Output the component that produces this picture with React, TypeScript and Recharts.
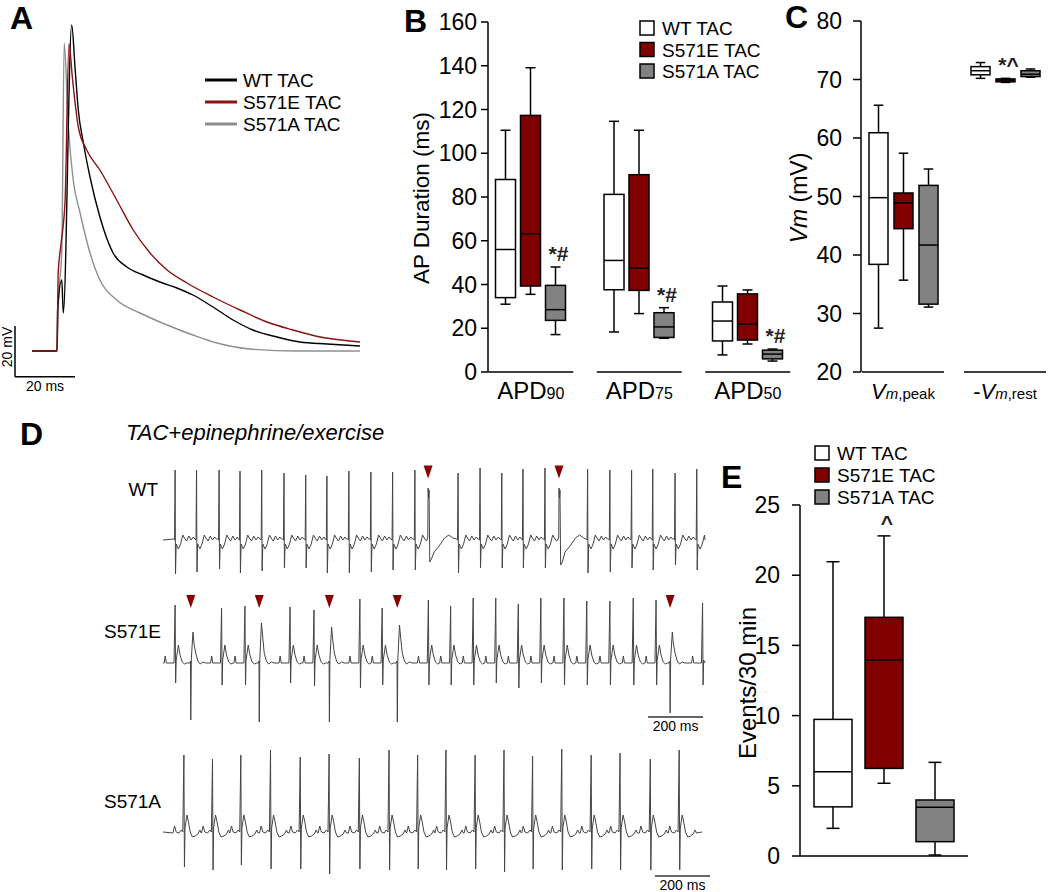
import React from "react";
import {
  LineChart,
  Line,
  BarChart,
  Bar,
  XAxis,
  YAxis,
  ReferenceLine,
  ReferenceDot,
} from "recharts";

const FONT = "'Liberation Sans', Arial, Helvetica, sans-serif";
const RED = "#800000";
const GRAY = "#828282";
const TRACE_RED = "#8a1212";
const TRACE_GRAY = "#8e8e8e";
const ECG = "#444";

// ---------- A: action potentials (ms from upstroke, mV)
const apWtTime = [-8.3, 0, 0.2, 1.6, 2.1, 4.9, 6, 7.1, 8.8, 11, 14.3, 18.7, 23.3, 28.7, 34.3, 40, 45.3, 52, 58.7, 65.3, 73.3, 81, 90, 101];
const apWtVm = [-80, -80, -63.6, -51.6, -64.8, 50.4, 33.6, 16.4, 3.2, -10.4, -26.4, -40.8, -46.4, -49.6, -52.4, -54.8, -57.6, -62.4, -67.6, -71.6, -74.4, -76.4, -77.2, -78];
const apS571ETime = [-8.3, 0, 0.4, 1.3, 2.7, 4, 5.2, 7.1, 9.9, 14.3, 19.9, 25.4, 31, 36.7, 43.3, 52, 61, 70, 78.7, 87.7, 101];
const apS571EVm = [-80, -80, -48.8, -37.6, -19.6, 42.8, 28.4, 9.6, 0.4, -7.6, -19.6, -31.6, -40.8, -47.6, -52.8, -58.4, -63.6, -68.4, -71.6, -74.4, -76.4];
const apS571ATime = [-8.3, 0, 0.5, 1.6, 2.4, 3.8, 5.4, 7.7, 11, 14.3, 19.9, 27.7, 36.7, 45.3, 53.3, 64.3, 80, 101];
const apS571AVm = [-80, -80, -59.6, -39.6, 43.2, 9.6, -11.6, -24.8, -40.8, -51.6, -59.6, -64.8, -69.6, -73.6, -76.8, -79.2, -80, -80];

// ---------- B: APD box plots [min, q1, median, q3, max]
const apdCategories = ["APD90", "APD75", "APD50"];
const apdWt = [[31, 34, 56, 88, 110.5], [18.3, 37.6, 51, 81.2, 114.6], [7.8, 14.2, 23.3, 32, 39.3]];
const apdS571E = [[35.5, 39.3, 63.2, 117.3, 139.1], [26.7, 37.3, 47.5, 90.2, 110.5], [12.8, 14.6, 21.9, 35.7, 37.5]];
const apdS571A = [[17.1, 23.6, 28.5, 39.6, 48], [15.4, 15.8, 20.6, 27.1, 29.4], [5, 6, 8.2, 10, 10.5]];
const apdS571AMarks = ["*#", "*#", "*#"];
const apdTicks = [0, 20, 40, 60, 80, 100, 120, 140, 160];

// ---------- C: membrane potential box plots
const vmCategories = ["peak", "rest"];
const vmWt = [[27.5, 38.4, 49.8, 60.9, 65.6], [70.2, 70.8, 71.5, 72.2, 72.9]];
const vmS571E = [[35.7, 44.5, 48.9, 50.6, 57.4], [69.5, 69.6, 69.9, 70.1, 70.2]];
const vmS571A = [[31.1, 31.6, 41.7, 51.9, 54.7], [70.4, 70.5, 70.9, 71.5, 71.8]];
const vmS571EMarks = ["", "*^"];
const vmTicks = [20, 30, 40, 50, 60, 70, 80];

// ---------- E: events per 30 min
const eventWt = [1.97, 3.5, 6, 9.73, 20.96];
const eventS571E = [5.18, 6.24, 13.96, 17, 22.8];
const eventS571A = [0.07, 1.02, 3.47, 3.99, 6.67];
const eventS571EMark = "^";
const eventTicks = [0, 5, 10, 15, 20, 25];

// ---------- D: ECG beats (ms), R / S amplitudes (a.u.)
const wtBeatTimes = [44, 122, 204, 280, 359, 440, 519, 596, 676, 756, 835, 916, 1073, 1153, 1232, 1309, 1389, 1544, 1625, 1704, 1781, 1862, 1941];
const wtR = [70, 70, 70, 69, 70, 67, 65, 64, 69, 68, 68, 70, 67, 72, 67, 71, 72, 71, 70, 70, 71, 67, 71];
const wtS = [-34, -32, -29, -33, -31, -28, -28, -33, -33, -32, -30, -30, -33, -28, -28, -28, -28, -33, -32, -28, -30, -25, -30];
const wtEctTimes = [964, 1440];
const wtEctR = [52, 52];
const wtEctS = [-22, -25];

const eBeatTimes = [44, 213, 298, 462, 549, 716, 797, 965, 1046, 1128, 1210, 1292, 1374, 1458, 1541, 1625, 1710, 1793, 1962];
const eR = [58, 55, 57, 56, 53, 64, 55, 63, 57, 65, 65, 59, 65, 65, 62, 62, 65, 63, 60];
const eS = [-20, -22, -22, -20, -23, -25, -22, -22, -22, -22, -20, -25, -20, -22, -22, -22, -22, -22, -22];
const eEctTimes = [101, 350, 605, 852, 1844];
const eEctH = [31, 40, 36, 38, 31];
const eEctD = [-57, -59, -59, -59, -50];

const aBeatTimes = [76, 180, 283, 391, 499, 604, 714, 822, 926, 1029, 1135, 1240, 1344, 1450, 1557, 1662, 1772, 1877];
const aR = [77, 73, 77, 82, 75, 78, 74, 82, 77, 82, 77, 82, 76, 83, 77, 79, 73, 82];
const aS = [-35, -38, -33, -37, -37, -42, -37, -38, -37, -38, -37, -40, -37, -38, -37, -38, -38, -38];

// beat shapes: [ms offset, amplitude]
const wtNormal = (r: number, s: number) => [[-6, 1], [-2, 0], [0, r], [1.5, s], [4, -4], [12, -9], [20, -4], [28, 5], [34, 2], [42, -1], [50, 4], [58, 0], [66, 3], [72, 1]];
const wtEctopic = (r: number, s: number) => [[-4, 0], [-1, 3], [0, r], [2, r - 10], [3.5, r - 2], [6, s], [12, s + 3], [22, -12], [40, -6], [60, 2], [75, 5], [90, 2]];
const eNormal = (r: number, s: number) => [[-40, 0], [-36, 7], [-32, 0], [-4, 0], [0, r], [2, s], [4, 3], [12, 18], [18, 8], [26, 1], [34, -1], [42, 0]];
const eEctopic = (h: number, d: number) => [[-4, 0], [-1, 2], [0, d], [2, 4], [8, h], [12, h - 12], [18, 10], [26, 2], [34, -1], [44, 1], [54, 0]];
const aNormal = (r: number, s: number) => [[-40, -1], [-34, 6], [-28, 0], [-18, -1], [-10, 2], [-4, 0], [0, r], [2, s], [4, 4], [11, 17], [16, 11], [23, 0], [31, -5], [41, -4], [51, -2], [58, 2], [63, -1]];

const makeTrace = (beats: { t: number; wave: number[][] }[], end: number) => {
  const sorted = [...beats].sort((a, b) => a.t - b.t);
  const pts = [{ t: 0, v: 0 }];
  sorted.forEach((b, i) => {
    const next = i < sorted.length - 1 ? sorted[i + 1].t + sorted[i + 1].wave[0][0] : end;
    b.wave.forEach(([dt, v]) => {
      const t = b.t + dt;
      if (t > pts[pts.length - 1].t && t < next && t < end) pts.push({ t, v });
    });
  });
  pts.push({ t: end, v: 0 });
  return pts;
};

const wtTrace = makeTrace(
  [
    ...wtBeatTimes.map((t, i) => ({ t, wave: wtNormal(wtR[i], wtS[i]) })),
    ...wtEctTimes.map((t, i) => ({ t, wave: wtEctopic(wtEctR[i], wtEctS[i]) })),
  ],
  1971
);
const eTrace = makeTrace(
  [
    ...eBeatTimes.map((t, i) => ({ t, wave: eNormal(eR[i], eS[i]) })),
    ...eEctTimes.map((t, i) => ({ t, wave: eEctopic(eEctH[i], eEctD[i]) })),
  ],
  1971
);
const aTrace = makeTrace(aBeatTimes.map((t, i) => ({ t, wave: aNormal(aR[i], aS[i]) })), 1960);

const toPts = (ts: number[], vs: number[]) => ts.map((t, i) => ({ t, v: vs[i] }));

// ---------- shared pieces
const boxShape = (fill: string, statsKey: string, markKey: string, capRatio: number) => (props: any) => {
  const { x, y, width, height, payload } = props;
  const [lo, q1, med, q3, hi] = payload[statsKey];
  const py = (v: number) => y + ((hi - v) / (hi - lo)) * height;
  const cx = x + width / 2;
  const cap = (width * capRatio) / 2;
  const mark = payload[markKey];
  return (
    <g>
      <line x1={cx} x2={cx} y1={py(hi)} y2={py(lo)} stroke="#000" strokeWidth={1.5} />
      <line x1={cx - cap} x2={cx + cap} y1={py(hi)} y2={py(hi)} stroke="#000" strokeWidth={1.5} />
      <line x1={cx - cap} x2={cx + cap} y1={py(lo)} y2={py(lo)} stroke="#000" strokeWidth={1.5} />
      <rect x={x} y={py(q3)} width={width} height={Math.max(py(q1) - py(q3), 1)} fill={fill} stroke="#000" strokeWidth={1.5} />
      <line x1={x} x2={x + width} y1={py(med)} y2={py(med)} stroke="#000" strokeWidth={1.5} />
      {mark ? (
        <text x={cx + 3} y={py(hi) - 6} textAnchor="middle" fontFamily={FONT} fontSize={21} fontWeight="bold" fill="#222">
          {mark}
        </text>
      ) : null}
    </g>
  );
};

const axisStyle = { stroke: "#000", strokeWidth: 1.5 };
const tickStyle = { fill: "#000", fontSize: 23, fontFamily: FONT };

const ApdTick = (props: any) => {
  const { x, y, payload } = props;
  const label = String(payload.value);
  return (
    <g>
      <line x1={x - 42.5} x2={x + 42.5} y1={y} y2={y} stroke="#000" strokeWidth={1.5} />
      <text x={x} y={y + 27} textAnchor="middle" fontFamily={FONT} fontSize={24} fill="#000">
        {label.slice(0, 3)}
        <tspan fontSize={16}>{label.slice(3)}</tspan>
      </text>
    </g>
  );
};

const VmTick = (props: any) => {
  const { x, y, payload } = props;
  const rest = payload.value === "rest";
  return (
    <g>
      <line x1={x - 41} x2={x + 41} y1={y} y2={y} stroke="#000" strokeWidth={1.5} />
      <text x={x} y={y + 27} textAnchor="middle" fontFamily={FONT} fontSize={22} fill="#000">
        {rest ? "-" : ""}
        <tspan fontStyle="italic">V</tspan>
        <tspan fontStyle="italic" fontSize={15}>m</tspan>
        <tspan fontSize={15}>{"," + payload.value}</tspan>
      </text>
    </g>
  );
};

const Triangle = (props: any) => {
  const { cx, cy } = props;
  return <polygon points={`${cx - 4.5},${cy - 6.5} ${cx + 4.5},${cy - 6.5} ${cx},${cy + 6.5}`} fill="#8b0000" />;
};

const EcgRow = ({ top, height, domain, data, arrows, arrowV, bar }: any) => (
  <div style={{ position: "absolute", left: 163, top, width: 550, height }}>
    <LineChart width={550} height={height} margin={{ top: 0, right: 0, bottom: 0, left: 0 }}>
      <XAxis type="number" dataKey="t" domain={[0, 2000]} hide allowDataOverflow />
      <YAxis type="number" domain={domain} hide allowDataOverflow />
      <Line data={data} dataKey="v" type="linear" dot={false} stroke={ECG} strokeWidth={1} isAnimationActive={false} />
      {arrows.map((t: number) => (
        <ReferenceDot key={t} x={t} y={arrowV} r={0} shape={Triangle} ifOverflow="visible" />
      ))}
      {bar ? (
        <ReferenceLine
          segment={[{ x: bar[0], y: bar[2] }, { x: bar[1], y: bar[2] }]}
          stroke="#333"
          strokeWidth={1.5}
          ifOverflow="visible"
          label={{ value: "200 ms", position: "bottom", offset: 4, fontSize: 14, fontFamily: FONT, fill: "#000" }}
        />
      ) : null}
    </LineChart>
  </div>
);

const PanelA = () => (
  <div style={{ position: "absolute", left: 0, top: 21, width: 360, height: 360 }}>
    <LineChart width={360} height={360} margin={{ top: 0, right: 0, bottom: 0, left: 0 }}>
      <XAxis type="number" dataKey="t" domain={[-19, 101]} hide allowDataOverflow />
      <YAxis type="number" domain={[-92, 52]} hide allowDataOverflow />
      <Line data={toPts(apS571ATime, apS571AVm)} dataKey="v" type="monotone" dot={false} stroke={TRACE_GRAY} strokeWidth={1.4} isAnimationActive={false} />
      <Line data={toPts(apWtTime, apWtVm)} dataKey="v" type="monotone" dot={false} stroke="#000" strokeWidth={1.4} isAnimationActive={false} />
      <Line data={toPts(apS571ETime, apS571EVm)} dataKey="v" type="monotone" dot={false} stroke={TRACE_RED} strokeWidth={1.4} isAnimationActive={false} />
      <ReferenceLine segment={[{ x: -14, y: -90.3 }, { x: -14, y: -70 }]} stroke="#000" strokeWidth={1.5} ifOverflow="visible" />
      <ReferenceLine segment={[{ x: -14, y: -90.3 }, { x: 6, y: -90.3 }]} stroke="#000" strokeWidth={1.5} ifOverflow="visible" />
    </LineChart>
  </div>
);

const apdRows = apdCategories.map((name, i) => ({
  name,
  wt: [apdWt[i][0], apdWt[i][4]],
  wtStats: apdWt[i],
  e: [apdS571E[i][0], apdS571E[i][4]],
  eStats: apdS571E[i],
  a: [apdS571A[i][0], apdS571A[i][4]],
  aStats: apdS571A[i],
  aMark: apdS571AMarks[i],
}));

const PanelB = () => (
  <div style={{ position: "absolute", left: 400, top: 0, width: 402, height: 412 }}>
    <BarChart width={402} height={412} data={apdRows} margin={{ top: 22, right: 0, bottom: 10, left: 28 }} barSize={20} barGap={5}>
      <XAxis dataKey="name" height={30} axisLine={false} tickLine={false} tickSize={0} tickMargin={0} padding={{ left: -11.5, right: 0 }} tick={<ApdTick />} interval={0} />
      <YAxis width={60} domain={[0, 160]} ticks={apdTicks} interval={0} axisLine={axisStyle} tickLine={axisStyle} tickSize={7} tickMargin={4} tick={tickStyle} />
      <Bar dataKey="wt" shape={boxShape("#fff", "wtStats", "wtMark", 0.5)} isAnimationActive={false} />
      <Bar dataKey="e" shape={boxShape(RED, "eStats", "eMark", 0.5)} isAnimationActive={false} />
      <Bar dataKey="a" shape={boxShape(GRAY, "aStats", "aMark", 0.5)} isAnimationActive={false} />
    </BarChart>
  </div>
);

const vmRows = vmCategories.map((name, i) => ({
  name,
  wt: [vmWt[i][0], vmWt[i][4]],
  wtStats: vmWt[i],
  e: [vmS571E[i][0], vmS571E[i][4]],
  eStats: vmS571E[i],
  eMark: vmS571EMarks[i],
  a: [vmS571A[i][0], vmS571A[i][4]],
  aStats: vmS571A[i],
}));

const PanelC = () => (
  <div style={{ position: "absolute", left: 760, top: 0, width: 290, height: 412 }}>
    <BarChart width={290} height={412} data={vmRows} margin={{ top: 21, right: 0, bottom: 10, left: 41 }} barSize={19} barGap={6}>
      <XAxis dataKey="name" height={30} axisLine={false} tickLine={false} tickSize={0} tickMargin={0} padding={{ left: -9, right: -6 }} tick={<VmTick />} interval={0} />
      <YAxis width={60} domain={[20, 80]} ticks={vmTicks} interval={0} axisLine={axisStyle} tickLine={axisStyle} tickSize={8} tickMargin={11} tick={tickStyle} />
      <Bar dataKey="wt" shape={boxShape("#fff", "wtStats", "wtMark", 0.5)} isAnimationActive={false} />
      <Bar dataKey="e" shape={boxShape(RED, "eStats", "eMark", 0.5)} isAnimationActive={false} />
      <Bar dataKey="a" shape={boxShape(GRAY, "aStats", "aMark", 0.5)} isAnimationActive={false} />
    </BarChart>
  </div>
);

const eventRows = [
  {
    name: "events",
    wt: [eventWt[0], eventWt[4]],
    wtStats: eventWt,
    e: [eventS571E[0], eventS571E[4]],
    eStats: eventS571E,
    eMark: eventS571EMark,
    a: [eventS571A[0], eventS571A[4]],
    aStats: eventS571A,
  },
];

const PanelE = () => (
  <div style={{ position: "absolute", left: 700, top: 480, width: 268, height: 412 }}>
    <BarChart width={268} height={412} data={eventRows} margin={{ top: 25, right: 0, bottom: 6, left: 40 }} barSize={38} barGap={13}>
      <XAxis dataKey="name" height={30} axisLine={axisStyle} tickLine={false} tick={false} />
      <YAxis width={60} domain={[0, 25]} ticks={eventTicks} interval={0} axisLine={axisStyle} tickLine={axisStyle} tickSize={8} tickMargin={12} tick={tickStyle} />
      <Bar dataKey="wt" shape={boxShape("#fff", "wtStats", "wtMark", 0.34)} isAnimationActive={false} />
      <Bar dataKey="e" shape={boxShape(RED, "eStats", "eMark", 0.34)} isAnimationActive={false} />
      <Bar dataKey="a" shape={boxShape(GRAY, "aStats", "aMark", 0.34)} isAnimationActive={false} />
    </BarChart>
  </div>
);

const groups = ["WT TAC", "S571E TAC", "S571A TAC"];
const groupFills = ["#fff", RED, GRAY];
const traceColors = ["#000", TRACE_RED, TRACE_GRAY];

const Overlay = () => (
  <svg width={1050} height={892} style={{ position: "absolute", left: 0, top: 0, pointerEvents: "none" }} fontFamily={FONT}>
    <g fontWeight="bold" fontSize={32} fill="#000">
      <text x={10} y={29}>A</text>
      <text x={404} y={32}>B</text>
      <text x={785} y={28}>C</text>
      <text x={20} y={445}>D</text>
      <text x={721} y={488}>E</text>
    </g>
    {groups.map((g, i) => (
      <g key={"a" + g}>
        <line x1={205} x2={237} y1={80 + i * 22} y2={80 + i * 22} stroke={traceColors[i]} strokeWidth={3} />
        <text x={243} y={87 + i * 22} fontSize={19}>{g}</text>
      </g>
    ))}
    <text transform="translate(12,347) rotate(-90)" textAnchor="middle" fontSize={14}>20 mV</text>
    <text x={45} y={391} textAnchor="middle" fontSize={14}>20 ms</text>
    {groups.map((g, i) => (
      <g key={"b" + g}>
        <rect x={640} y={21 + i * 21.5} width={14} height={14} fill={groupFills[i]} stroke="#000" strokeWidth={1.5} />
        <text x={662} y={35 + i * 21.5} fontSize={19}>{g}</text>
      </g>
    ))}
    {groups.map((g, i) => (
      <g key={"e" + g}>
        <rect x={815} y={446 + i * 22} width={14} height={14} fill={groupFills[i]} stroke="#000" strokeWidth={1.5} />
        <text x={837} y={460 + i * 22} fontSize={19}>{g}</text>
      </g>
    ))}
    <text transform="translate(429,198) rotate(-90)" textAnchor="middle" fontSize={22.5}>AP Duration (ms)</text>
    <text transform="translate(807,198) rotate(-90)" textAnchor="middle" fontSize={23}>
      <tspan fontStyle="italic">Vm</tspan> (mV)
    </text>
    <text transform="translate(756,683) rotate(-90)" textAnchor="middle" fontSize={24}>Events/30 min</text>
    <text x={126} y={440} fontSize={22} fontStyle="italic">TAC+epinephrine/exercise</text>
    <g fontSize={19} textAnchor="end">
      <text x={158} y={496}>WT</text>
      <text x={161} y={638}>S571E</text>
      <text x={161} y={808}>S571A</text>
    </g>
  </svg>
);

export default function App() {
  return (
    <div style={{ position: "absolute", left: 0, top: 0, width: 1050, height: 892, background: "#fff", fontFamily: FONT }}>
      <PanelA />
      <PanelB />
      <PanelC />
      <EcgRow top={455} height={125} domain={[-40, 85]} data={wtTrace} arrows={wtEctTimes} arrowV={68} />
      <EcgRow top={585} height={155} domain={[-77, 78]} data={eTrace} arrows={eEctTimes} arrowV={61.5} bar={[1764, 1964, -54]} />
      <EcgRow top={745} height={147} domain={[-60, 87]} data={aTrace} arrows={[]} arrowV={0} bar={[1789, 1989, -44]} />
      <PanelE />
      <Overlay />
    </div>
  );
}
